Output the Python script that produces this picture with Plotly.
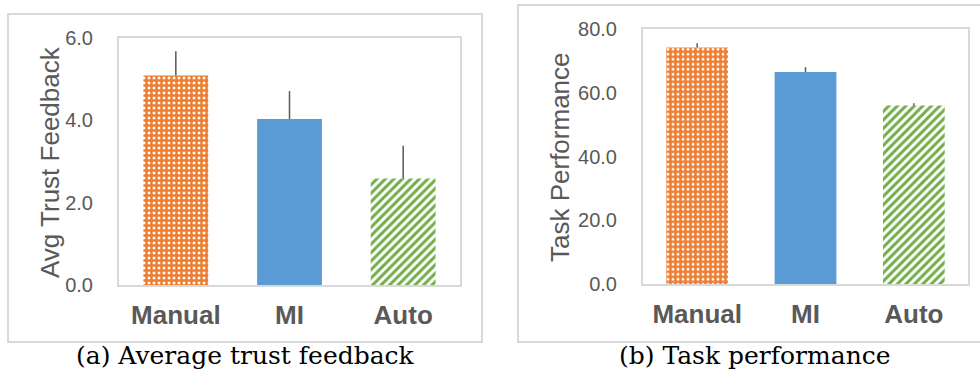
import plotly.graph_objects as go

categories = ["Manual", "MI", "Auto"]
trust_values = [5.09, 4.03, 2.59]
trust_errors = [0.59, 0.68, 0.79]
perf_values = [74.3, 66.6, 56.1]
perf_errors = [1.3, 1.5, 0.7]
trust_ticks = [0, 2, 4, 6]
perf_ticks = [0, 20, 40, 60, 80]
y_titles = ["Avg Trust Feedback", "Task Performance"]
captions = ["(a) Average trust feedback", "(b) Task performance"]

ORANGE = "#ED7D31"
BLUE = "#5B9BD5"
GREEN = "#70AD47"
GRAY = "#595959"
BORDER = "#D9D9D9"
W, H = 980, 372

patterns = [
    dict(shape="+", fgcolor=ORANGE, bgcolor="white", size=5, solidity=0.75, fillmode="replace", fgopacity=1),
    None,
    dict(shape="/", fgcolor=GREEN, bgcolor="white", size=6, solidity=0.5, fillmode="replace", fgopacity=1),
]

fig = go.Figure()

for ax, vals, errs in [("", trust_values, trust_errors), ("2", perf_values, perf_errors)]:
    for i, c in enumerate(categories):
        marker = dict(color=BLUE if i == 1 else "white", line=dict(width=0))
        if patterns[i] is not None:
            marker["pattern"] = patterns[i]
        fig.add_trace(go.Bar(
            x=[c], y=[vals[i]],
            xaxis="x" + ax, yaxis="y" + ax,
            marker=marker,
            width=0.57,
            error_y=dict(type="data", symmetric=False, array=[errs[i]], arrayminus=[0],
                         color=GRAY, thickness=1.5, width=0),
            showlegend=False,
            hoverinfo="skip",
        ))

axis_common = dict(showline=True, linecolor=BORDER, linewidth=2, mirror=True, showgrid=False,
                   zeroline=False, automargin=False)
xtick_font = dict(size=26, color=GRAY, family="Liberation Sans, Arial, sans-serif", weight="bold")

fig.update_layout(
    width=W, height=H,
    margin=dict(l=0, r=0, t=0, b=0, autoexpand=False),
    paper_bgcolor="white", plot_bgcolor="white",
    barmode="overlay",
    font=dict(family="Liberation Sans, Arial, sans-serif", color=GRAY),
    xaxis=dict(domain=[119/W, 460/W], anchor="y", categoryorder="array", categoryarray=categories,
               ticks="outside", ticklen=6, tickcolor="rgba(0,0,0,0)", tickfont=xtick_font,
               **axis_common),
    yaxis=dict(domain=[(H-285)/H, (H-38)/H], anchor="x", range=[0, 6], tickvals=trust_ticks,
               tickformat=".1f", ticks="outside", ticklen=20, tickcolor="rgba(0,0,0,0)",
               tickfont=dict(size=20, color=GRAY), **axis_common),
    xaxis2=dict(domain=[643/W, 968/W], anchor="y2", categoryorder="array", categoryarray=categories,
                ticks="outside", ticklen=6, tickcolor="rgba(0,0,0,0)", tickfont=xtick_font,
                **axis_common),
    yaxis2=dict(domain=[(H-284)/H, (H-29.3)/H], anchor="x2", range=[0, 80], tickvals=perf_ticks,
                tickformat=".1f", ticks="outside", ticklen=20, tickcolor="rgba(0,0,0,0)",
                tickfont=dict(size=20, color=GRAY), **axis_common),
)

# outer frames
fig.add_shape(type="rect", xref="paper", yref="paper",
              x0=8/W, x1=482/W, y0=(H-342)/H, y1=(H-14)/H,
              line=dict(color=BORDER, width=2), fillcolor="rgba(0,0,0,0)", layer="below")
fig.add_shape(type="rect", xref="paper", yref="paper",
              x0=518/W, x1=990/W, y0=(H-342)/H, y1=(H-5)/H,
              line=dict(color=BORDER, width=2), fillcolor="rgba(0,0,0,0)", layer="below")

# y-axis titles
for (cx, cy), txt in zip([(50, 162), (560, 157)], y_titles):
    fig.add_annotation(x=cx/W, y=(H-cy)/H, xref="paper", yref="paper", text=txt, textangle=-90,
                       showarrow=False, xanchor="center", yanchor="middle",
                       font=dict(size=26, color=GRAY))

# captions
for cx, txt in zip([245, 755], captions):
    fig.add_annotation(x=cx/W, y=(H-355)/H, xref="paper", yref="paper",
                       text=txt, showarrow=False, xanchor="center", yanchor="middle",
                       font=dict(family="DejaVu Serif, serif", size=25, color="black"))

fig.write_html("out.html", config={"displayModeBar": False},
               post_script="document.body.style.margin='0';document.body.style.overflow='hidden';")
